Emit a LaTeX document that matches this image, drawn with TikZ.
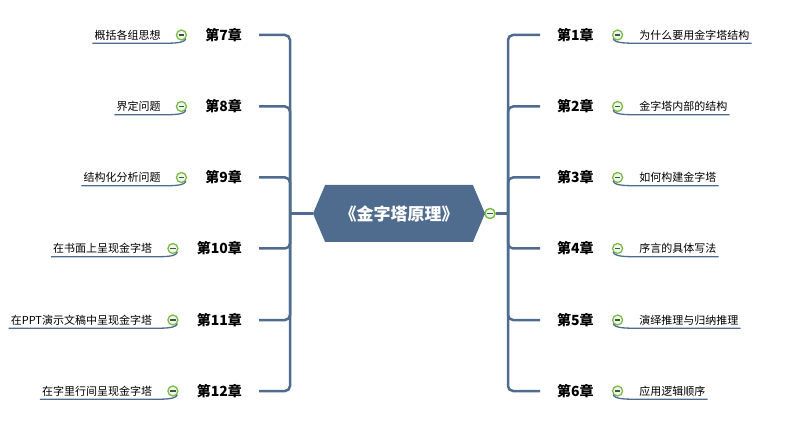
\documentclass[tikz,border=0pt]{standalone}
\usepackage{fontspec}
\setmainfont{Noto Sans CJK SC}
\usepackage{tikz}
\usetikzlibrary{positioning,shapes.symbols}
\definecolor{trunkblue}{RGB}{79,108,143}
\definecolor{knobgreen}{RGB}{122,188,72}
\definecolor{knobgray}{RGB}{70,82,70}
\tikzset{
  trunk/.style={draw=trunkblue, line width=2.5pt},
  chap/.style={inner sep=0pt, font=\fontsize{14}{16}\selectfont\bfseries},
  knob/.style={circle, draw=knobgreen, line width=1.3pt, fill=knobgreen!12,
    minimum size=10pt, inner sep=0pt,
    path picture={\draw[knobgray, line width=1.2pt]
      ([xshift=-2.8pt]path picture bounding box.center) --
      ([xshift=2.8pt]path picture bounding box.center);}},
  leaf/.style={inner xsep=2pt, inner ysep=0pt, minimum height=16pt,
    font=\fontsize{11}{13}\selectfont},
  uline/.style={draw=trunkblue, line width=1.3pt}
}

\begin{document}
\begin{tikzpicture}[x=1pt,y=-1pt]
\useasboundingbox (0,0) rectangle (800,430);

\node (root) [signal, signal to=west and east, signal pointer angle=134,
  fill=trunkblue, minimum width=172pt, minimum height=57pt, inner sep=0pt,
  text=white, font=\fontsize{17}{20}\selectfont\bfseries] at (399,213.5) {《金字塔原理》};
\node (kr) [knob] at (490,213.5) {};
\coordinate (jr) at (508,213.5);
\coordinate (jl) at (290,213.5);

% right side
\node (c1) [chap, anchor=west] at (557,35) {第1章};
\node (c2) [chap, anchor=west] at (557,106.5) {第2章};
\node (c3) [chap, anchor=west] at (557,177.5) {第3章};
\node (c4) [chap, anchor=west] at (557,248.5) {第4章};
\node (c5) [chap, anchor=west] at (557,320) {第5章};
\node (c6) [chap, anchor=west] at (557,391) {第6章};

\node (k1) [knob, right=18pt of c1] {};
\node (k2) [knob, right=18pt of c2] {};
\node (k3) [knob, right=18pt of c3] {};
\node (k4) [knob, right=18pt of c4] {};
\node (k5) [knob, right=18pt of c5] {};
\node (k6) [knob, right=18pt of c6] {};

\node (t1) [leaf, right=14pt of k1] {为什么要用金字塔结构};
\node (t2) [leaf, right=14pt of k2] {金字塔内部的结构};
\node (t3) [leaf, right=14pt of k3] {如何构建金字塔};
\node (t4) [leaf, right=14pt of k4] {序言的具体写法};
\node (t5) [leaf, right=14pt of k5] {演绎推理与归纳推理};
\node (t6) [leaf, right=14pt of k6] {应用逻辑顺序};

% left side
\node (c7) [chap, anchor=east] at (242,35) {第7章};
\node (c8) [chap, anchor=east] at (242,106.5) {第8章};
\node (c9) [chap, anchor=east] at (242,177.5) {第9章};
\node (c10) [chap, anchor=east] at (242,248.5) {第10章};
\node (c11) [chap, anchor=east] at (242,320) {第11章};
\node (c12) [chap, anchor=east] at (242,391) {第12章};

\node (k7) [knob, left=18pt of c7] {};
\node (k8) [knob, left=18pt of c8] {};
\node (k9) [knob, left=18pt of c9] {};
\node (k10) [knob, left=18pt of c10] {};
\node (k11) [knob, left=18pt of c11] {};
\node (k12) [knob, left=18pt of c12] {};

\node (t7) [leaf, left=13pt of k7] {概括各组思想};
\node (t8) [leaf, left=13pt of k8] {界定问题};
\node (t9) [leaf, left=13pt of k9] {结构化分析问题};
\node (t10) [leaf, left=13pt of k10] {在书面上呈现金字塔};
\node (t11) [leaf, left=13pt of k11] {在PPT演示文稿中呈现金字塔};
\node (t12) [leaf, left=13pt of k12] {在字里行间呈现金字塔};

% trunk lines
\draw[trunk] (root.east) -- (kr);
\draw[trunk] (kr) -- (jr);
\draw[trunk] (root.west) -- (jl);
\draw[trunk, rounded corners=5pt] (jr) |- ([xshift=-17pt]c1.west);
\draw[trunk, rounded corners=5pt] (jr) |- ([xshift=-17pt]c2.west);
\draw[trunk, rounded corners=5pt] (jr) |- ([xshift=-17pt]c3.west);
\draw[trunk, rounded corners=5pt] (jr) |- ([xshift=-17pt]c4.west);
\draw[trunk, rounded corners=5pt] (jr) |- ([xshift=-17pt]c5.west);
\draw[trunk, rounded corners=5pt] (jr) |- ([xshift=-17pt]c6.west);
\draw[trunk, rounded corners=5pt] (jl) |- ([xshift=17pt]c7.east);
\draw[trunk, rounded corners=5pt] (jl) |- ([xshift=17pt]c8.east);
\draw[trunk, rounded corners=5pt] (jl) |- ([xshift=17pt]c9.east);
\draw[trunk, rounded corners=5pt] (jl) |- ([xshift=17pt]c10.east);
\draw[trunk, rounded corners=5pt] (jl) |- ([xshift=17pt]c11.east);
\draw[trunk, rounded corners=5pt] (jl) |- ([xshift=17pt]c12.east);
\node [knob] at (kr) {};

% underlines
\draw[uline] (k1.220) .. controls +(1,5) and +(-8,0) .. (t1.south west) -- (t1.south east);
\draw[uline] (k2.220) .. controls +(1,5) and +(-8,0) .. (t2.south west) -- (t2.south east);
\draw[uline] (k3.220) .. controls +(1,5) and +(-8,0) .. (t3.south west) -- (t3.south east);
\draw[uline] (k4.220) .. controls +(1,5) and +(-8,0) .. (t4.south west) -- (t4.south east);
\draw[uline] (k5.220) .. controls +(1,5) and +(-8,0) .. (t5.south west) -- (t5.south east);
\draw[uline] (k6.220) .. controls +(1,5) and +(-8,0) .. (t6.south west) -- (t6.south east);
\draw[uline] (t7.south west) -- (t7.south east) .. controls +(8,0) and +(-1,5) .. (k7.-40);
\draw[uline] (t8.south west) -- (t8.south east) .. controls +(8,0) and +(-1,5) .. (k8.-40);
\draw[uline] (t9.south west) -- (t9.south east) .. controls +(8,0) and +(-1,5) .. (k9.-40);
\draw[uline] (t10.south west) -- (t10.south east) .. controls +(8,0) and +(-1,5) .. (k10.-40);
\draw[uline] (t11.south west) -- (t11.south east) .. controls +(8,0) and +(-1,5) .. (k11.-40);
\draw[uline] (t12.south west) -- (t12.south east) .. controls +(8,0) and +(-1,5) .. (k12.-40);
\end{tikzpicture}
\end{document}
